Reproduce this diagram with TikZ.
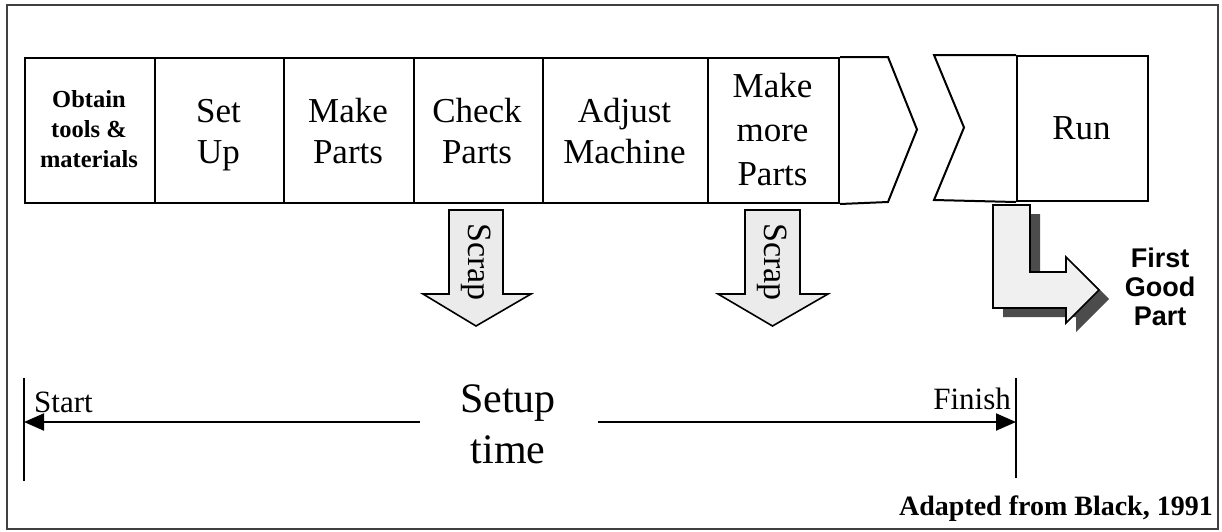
\documentclass[tikz,border=0pt]{standalone}
\usepackage{fontspec}
\setmainfont{Liberation Serif}
\newfontfamily\sansfam{Liberation Sans}
\usetikzlibrary{arrows.meta}
\begin{document}
\begin{tikzpicture}[x=1pt,y=-1pt,
  boxline/.style={draw=black, line width=2pt, line join=miter},
  stepbox/.style={boxline, rectangle, inner sep=0pt, anchor=north west, minimum height=145pt},
  steplabel/.style={inner sep=0pt, align=center, font=\fontsize{35}{41}\selectfont},
  tline/.style={draw=black, line width=2pt},
  tiparrow/.style={tline, -{Triangle[length=20pt,width=17pt]}},
  scraparrow/.style={draw=black, line width=1.6pt, fill=black!8, line join=miter},
  scraplabel/.style={inner sep=0pt, rotate=-90, font=\fontsize{34}{36}\selectfont},
  lshadow/.style={fill=black!70, draw=none},
  lbody/.style={draw=black, line width=1.6pt, fill=black!6, line join=miter}
]
\useasboundingbox (0,0) rectangle (1222,531);
% outer frame
\draw[line width=1.6pt, draw=black!75] (7,5) rectangle (1218,529);

% process boxes
\node[stepbox, minimum width=130pt] (obtain) at (24,57) {};
\node[stepbox, minimum width=129pt] (setupbox) at (154,57) {};
\node[stepbox, minimum width=130pt] (make) at (283,57) {};
\node[stepbox, minimum width=129pt] (check) at (413,57) {};
\node[stepbox, minimum width=165pt] (adjust) at (542,57) {};
\node[stepbox, minimum width=131pt] (more) at (707,57) {};
\draw[boxline] (more.north east) -- (888,57) -- (917,129.5) -- (888,202) -- (more.south east);

\node[stepbox, minimum width=131pt] (run) at (1016,55) {};
\draw[boxline] (run.north west) -- (934,55) -- (964,127.5) -- (934,200) -- (run.south west);

% labels
\node[steplabel, font=\bfseries\fontsize{24.5}{30}\selectfont] (tobtain) at (89,129.5) {Obtain\\tools \&\\materials};
\node[steplabel] (tsetup) at (218.5,135) {Set\\Up};
\node[steplabel] (tmake) at (348,131.4) {Make\\Parts};
\node[steplabel] (tcheck) at (477,131) {Check\\Parts};
\node[steplabel] (tadjust) at (624.5,130.7) {Adjust\\Machine};
\node[steplabel, font=\fontsize{35}{44}\selectfont] (tmore) at (772.5,129.4) {Make\\more\\Parts};
\node[steplabel] (trun) at (1081.5,128) {Run};

% scrap arrows
\draw[scraparrow] (449,210) -- (503,210) -- (503,294) -- (531,294) -- (476,326) -- (423,294) -- (449,294) -- cycle;
\node[scraplabel] (scrap1) at (476,262) {Scrap};
\draw[scraparrow] (745,210) -- (800,210) -- (800,294) -- (828,294) -- (772.5,326) -- (718,294) -- (745,294) -- cycle;
\node[scraplabel] (scrap2) at (772.5,262) {Scrap};

% first good part L-arrow
\fill[lshadow, shift={(10,9)}] (993,205) -- (1030,205) -- (1030,272) -- (1066,272) -- (1066,257) -- (1099,290) -- (1066,323) -- (1066,308) -- (993,308) -- cycle;
\draw[lbody] (993,205) -- (1030,205) -- (1030,272) -- (1066,272) -- (1066,257) -- (1099,290) -- (1066,323) -- (1066,308) -- (993,308) -- cycle;
\node[inner sep=0pt, align=center, font=\sansfam\bfseries\fontsize{27}{29}\selectfont] (fgp) at (1160,286.5) {First\\Good\\Part};

% timeline
\coordinate (startTop) at (24,378);
\coordinate (startBot) at (24,481);
\coordinate (finTop) at (1016,378);
\coordinate (finBot) at (1016,478);
\draw[tline, line width=1.6pt] (startTop) -- (startBot);
\draw[tline, line width=1.6pt] (finTop) -- (finBot);
\node[inner sep=0pt, align=center, font=\fontsize{42}{51}\selectfont] (setup) at (508,424.5) {Setup\\time};
\coordinate (tstart) at (24,422);
\coordinate (tfinish) at (1016,422);
\coordinate (gapL) at (420,422);
\coordinate (gapR) at (598,422);
\draw[tiparrow] (gapL) -- (tstart);
\draw[tiparrow] (gapR) -- (tfinish);
\node[inner sep=0pt, anchor=base west, font=\fontsize{31}{34}\selectfont] (start) at (34,412) {Start};
\node[inner sep=0pt, anchor=base east, font=\fontsize{31}{34}\selectfont] (finish) at (1011,409) {Finish};

\node[inner sep=0pt, anchor=base east, font=\bfseries\fontsize{28}{30}\selectfont] (credit) at (1213,515) {Adapted from Black, 1991};
\end{tikzpicture}
\end{document}
